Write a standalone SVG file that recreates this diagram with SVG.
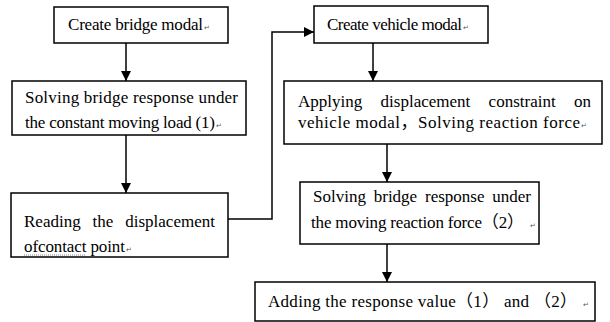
<svg xmlns="http://www.w3.org/2000/svg" width="610" height="322" viewBox="0 0 610 322">
<style>
.box{fill:#fff;stroke:#000;stroke-width:1.5}
.t{font-family:"Liberation Serif","Noto Sans CJK SC",serif;font-size:17px;fill:#000}
.pm{font-family:"DejaVu Sans",sans-serif;font-size:7px;fill:#555}
.c{fill:none;stroke:#000;stroke-width:1.5}
</style>
<defs>
<marker id="ah" viewBox="0 0 10 10" refX="10" refY="5" markerWidth="10" markerHeight="10" markerUnits="userSpaceOnUse" orient="auto">
<path d="M0,0 L10,5 L0,10 z" fill="#000"/>
</marker>
</defs>
<g id="connectors">
<line class="c" x1="126" y1="43" x2="126" y2="81" marker-end="url(#ah)"/>
<line class="c" x1="126" y1="135" x2="126" y2="193" marker-end="url(#ah)"/>
<polyline class="c" points="228,219 272,219 272,32 314,32" marker-end="url(#ah)"/>
<line class="c" x1="373" y1="43" x2="373" y2="81" marker-end="url(#ah)"/>
<line class="c" x1="387" y1="144" x2="387" y2="182" marker-end="url(#ah)"/>
<line class="c" x1="387" y1="244" x2="387" y2="282" marker-end="url(#ah)"/>
</g>
<g id="n1">
<rect class="box" x="54" y="7" width="174" height="36"/>
<text class="t" x="68" y="30" textLength="135" lengthAdjust="spacing">Create bridge modal</text>
<text class="pm" x="204" y="30">↵</text>
</g>
<g id="n2">
<rect class="box" x="12" y="81" width="234" height="54"/>
<text class="t" x="25" y="103" textLength="213" lengthAdjust="spacing">Solving bridge response under</text>
<text class="t" x="25" y="128" textLength="190" lengthAdjust="spacing">the constant moving load (1)</text>
<text class="pm" x="216" y="128">↵</text>
</g>
<g id="n3">
<rect class="box" x="11" y="193" width="217" height="64"/>
<text class="t" x="24" y="227" word-spacing="7.6" textLength="191" lengthAdjust="spacing">Reading the displacement</text>
<text class="t" x="24" y="252" textLength="101" lengthAdjust="spacing">ofcontact point</text>
<text class="pm" x="126" y="252">↵</text>
<line x1="24" y1="255" x2="86" y2="255" stroke="#888" stroke-width="1" stroke-dasharray="1,1"/>
</g>
<g id="n4">
<rect class="box" x="314" y="6" width="174" height="37"/>
<text class="t" x="327" y="30" textLength="135" lengthAdjust="spacing">Create vehicle modal</text>
<text class="pm" x="463" y="30">↵</text>
</g>
<g id="n5">
<rect class="box" x="284" y="81" width="318" height="63"/>
<text class="t" x="298" y="107" word-spacing="14" textLength="293" lengthAdjust="spacing">Applying displacement constraint on</text>
<text class="t" x="298" y="128" textLength="282" lengthAdjust="spacing">vehicle modal，Solving reaction force</text>
<text class="pm" x="581" y="128">↵</text>
</g>
<g id="n6">
<rect class="box" x="300" y="182" width="239" height="62"/>
<text class="t" x="313" y="202" word-spacing="3.6" textLength="218" lengthAdjust="spacing">Solving bridge response under</text>
<text class="t" x="311" y="228" textLength="213" lengthAdjust="spacing">the moving reaction force（2）</text>
<text class="pm" x="530" y="228">↵</text>
</g>
<g id="n7">
<rect class="box" x="255" y="282" width="340" height="39"/>
<text class="t" x="268" y="307" textLength="309" lengthAdjust="spacing">Adding the response value（1） and （2）</text>
<text class="pm" x="583" y="307">↵</text>
</g>
</svg>
